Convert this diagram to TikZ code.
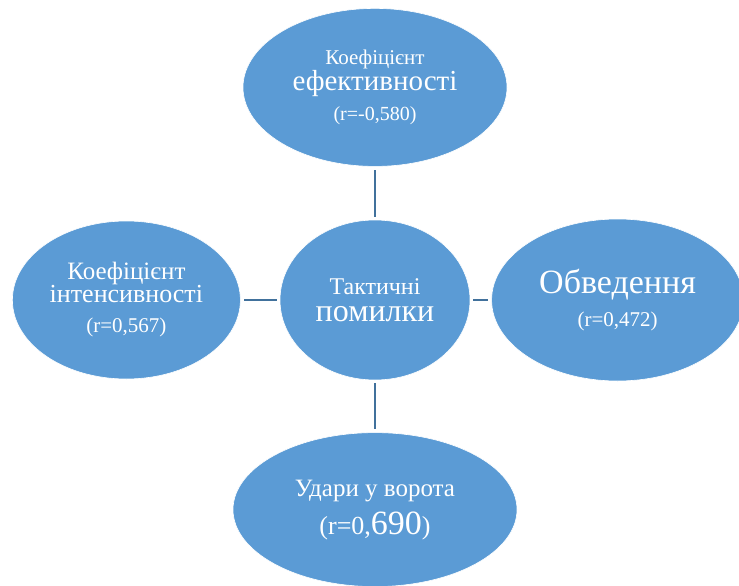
\documentclass[tikz,border=0pt]{standalone}
\usepackage{fontspec}
\setmainfont{Liberation Serif}
\usepackage{tikz}
\usetikzlibrary{shapes.geometric, positioning}

\definecolor{ovalblue}{RGB}{91,155,213}
\definecolor{linkblue}{RGB}{65,113,156}
\newcommand{\fsz}[1]{\fontsize{#1}{#1}\selectfont}

\begin{document}
\begin{tikzpicture}[
    x=1pt, y=-1pt,
    oval/.style={ellipse, fill=ovalblue, draw=white, line width=0.6pt, inner sep=0pt,
                 align=center, text=white},
    link/.style={draw=linkblue, line width=1.8pt, shorten >=3pt, shorten <=3pt}
]
\useasboundingbox (0,0) rectangle (739,586);

\node[oval, minimum width=190pt, minimum height=160pt,
      font=\fontsize{24}{27}\selectfont] (centre) at (375,300)
    {Тактичні\\{\fsz{32}помилки}};
\node[oval, above=53pt of centre, minimum width=264pt, minimum height=158pt,
      font=\fontsize{21}{26}\selectfont] (eff)
    {Коефіцієнт\\{\fsz{29}ефективності}\\[4pt]{\fsz{20}(r=-0,580)}};
\node[oval, left=39pt of centre, minimum width=228pt, minimum height=158pt,
      font=\fontsize{25}{23}\selectfont] (intens)
    {Коефіцієнт\\{\fsz{26}інтенсивності}\\[7pt]{\fsz{21}(r=0,567)}};
\node[oval, right=21pt of centre, minimum width=252pt, minimum height=162pt,
      font=\fontsize{34}{33}\selectfont] (dribble)
    {Обведення\\{\fsz{21}(r=0,472)}};
\node[oval, below=50pt of centre, minimum width=284pt, minimum height=154pt,
      font=\fontsize{25}{38}\selectfont, yshift=-2pt] (shots)
    {Удари у ворота\\{\fsz{26}(r=0,{\fsz{34}690})}};

\draw[link] (centre) -- (eff);
\draw[link] (centre) -- (intens);
\draw[link] (centre) -- (dribble);
\draw[link] (centre) -- (shots);
\end{tikzpicture}
\end{document}
